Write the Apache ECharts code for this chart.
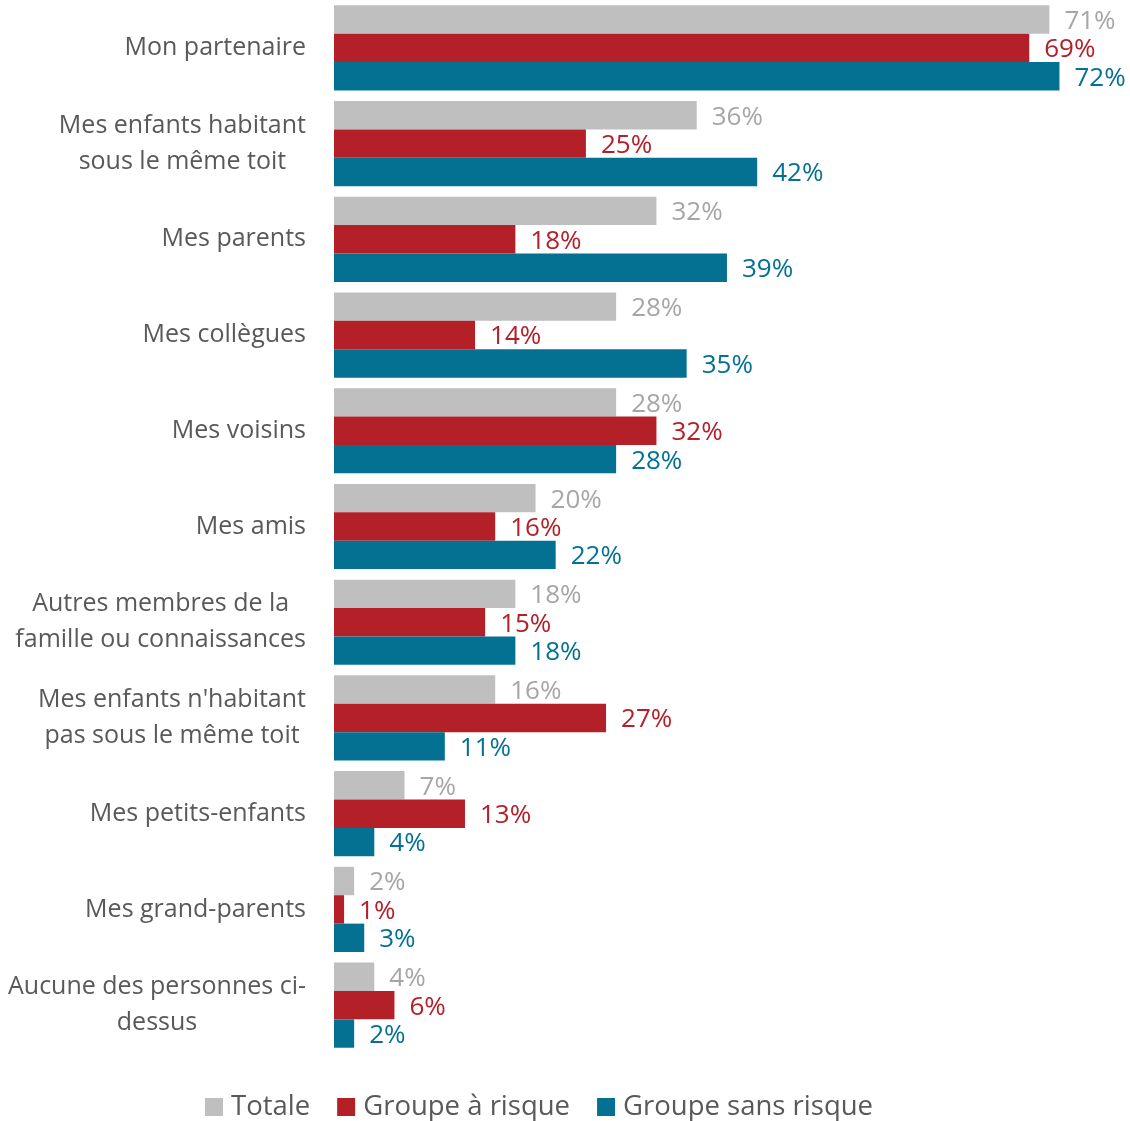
<!DOCTYPE html>
<html>
<head>
<meta charset="utf-8">
<style>
  html, body { margin: 0; padding: 0; background: #ffffff; }
  #chart { width: 1130px; height: 1121px; }
</style>
<script src="https://cdn.jsdelivr.net/npm/echarts@6/dist/echarts.min.js"></script>
</head>
<body>
<div id="chart"></div>
<script>
// Personnes de l'entourage, en % des répondants
const categories = [
  "Mon partenaire",
  "Mes enfants habitant\nsous le même toit",
  "Mes parents",
  "Mes collègues",
  "Mes voisins",
  "Mes amis",
  "Autres membres de la\nfamille ou connaissances",
  "Mes enfants n'habitant\npas sous le même toit",
  "Mes petits-enfants",
  "Mes grand-parents",
  "Aucune des personnes ci-\ndessus"
];
const seriesNames = ["Totale", "Groupe à risque", "Groupe sans risque"];
const totale       = [71, 36, 32, 28, 28, 20, 18, 16, 7, 2, 4];
const groupeRisque = [69, 25, 18, 14, 32, 16, 15, 27, 13, 1, 6];
const groupeSans   = [72, 42, 39, 35, 28, 22, 18, 11, 4, 3, 2];

const FONT = "'Open Sans', 'Noto Sans', sans-serif";
const colors = ["#bfbfbf", "#b42028", "#047193"];
const labelColors = ["#a6a6a6", "#b42028", "#047193"];

const chart = echarts.init(document.getElementById('chart'), null, { renderer: 'canvas' });

function barSeries(name, data, idx) {
  return {
    name: name,
    type: 'bar',
    data: data,
    barGap: '0%',
    barCategoryGap: '11%',
    itemStyle: { color: colors[idx] },
    label: {
      show: true,
      position: 'right',
      distance: 15,
      offset: [0, 2],
      formatter: '{c}%',
      color: labelColors[idx],
      fontFamily: FONT,
      fontSize: 26
    },
    emphasis: { disabled: true }
  };
}

chart.setOption({
  animation: false,
  textStyle: { fontFamily: FONT },
  grid: {
    left: 334, top: 0, right: 0, height: 1053,
    containLabel: false,
    outerBoundsMode: 'none'
  },
  xAxis: {
    type: 'value',
    min: 0,
    max: 79,
    show: false
  },
  yAxis: {
    type: 'category',
    data: categories,
    inverse: true,
    axisLine: { show: false },
    axisTick: { show: false },
    splitLine: { show: false },
    axisLabel: {
      margin: 28,
      align: 'right',
      fontFamily: FONT,
      fontSize: 25,
      color: '#595959',
      lineHeight: 36,
      formatter: function (v) {
        return v.split('\n').map(function (l) { return '{c|' + l + '}'; }).join('\n');
      },
      rich: {
        c: { align: 'center', fontFamily: FONT, fontSize: 25, color: '#595959', lineHeight: 36 }
      }
    }
  },
  legend: {
    data: seriesNames,
    left: 200,
    top: 1088,
    itemWidth: 18,
    itemHeight: 18,
    itemGap: 27,
    icon: 'rect',
    textStyle: { fontFamily: FONT, fontSize: 27.5, color: '#595959', padding: [0, 0, 0, 3] },
    selectedMode: false
  },
  series: [
    barSeries(seriesNames[0], totale, 0),
    barSeries(seriesNames[1], groupeRisque, 1),
    barSeries(seriesNames[2], groupeSans, 2)
  ]
});
</script>
</body>
</html>
